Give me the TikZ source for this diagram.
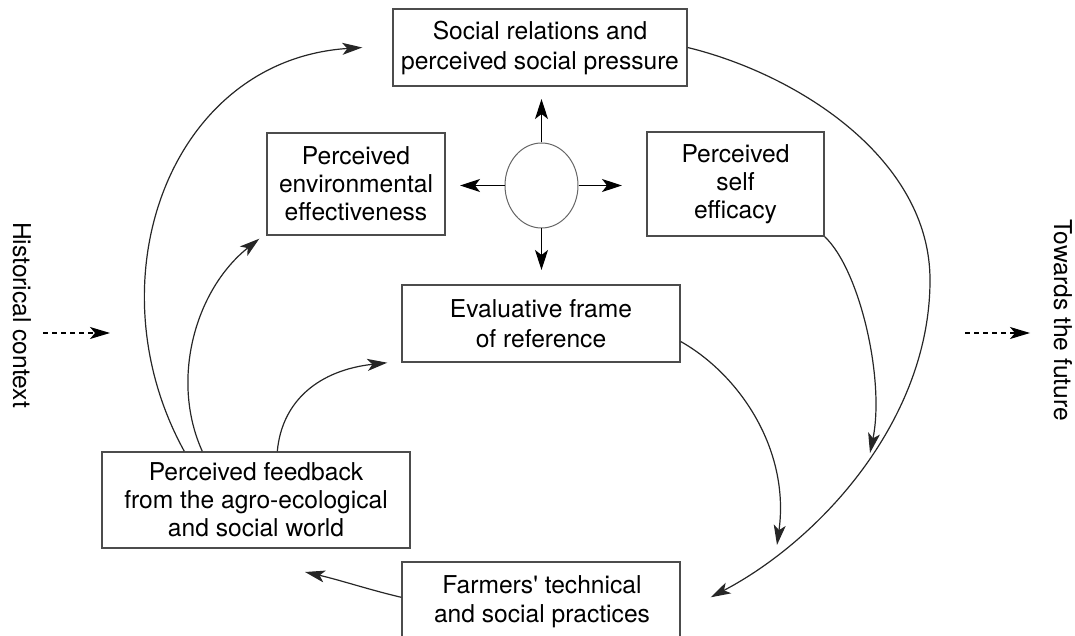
\documentclass[tikz,border=0pt]{standalone}
\usepackage{fontspec}
\setmainfont{TeX Gyre Heros}
\usetikzlibrary{arrows.meta,calc,shapes.geometric}
\begin{document}
\begin{tikzpicture}[x=0.5pt,y=-0.5pt,
  box/.style={draw=black!70,line width=0.7pt,inner sep=0pt,align=center,
    font=\fontsize{12.3}{14}\selectfont},
  wide/.style={font=\fontsize{12.3}{15}\selectfont},
  conn/.style={line width=0.6pt,draw=black!85,-{Stealth[length=10pt,width=6pt,inset=2.5pt]}},
  spoke/.style={line width=0.7pt,-{Stealth[length=10pt,width=6.5pt,inset=2.5pt]}},
  dashconn/.style={line width=0.6pt,dash pattern=on 2.5pt off 2pt,-{Stealth[length=10pt,width=6pt,inset=2.5pt]}},
  side/.style={rotate=-90,inner sep=0pt,font=\fontsize{12.3}{14}\selectfont}]
\useasboundingbox (0,0) rectangle (1075,636);
\clip (0,0) rectangle (1075,636);

% boxes
\node[box,wide,minimum width=147pt,minimum height=38.5pt] (soc) at (540,47.5)
  {Social relations and\\perceived social pressure};
\node[box,minimum width=89pt,minimum height=51pt] (env) at (356,184)
  {Perceived\\environmental\\effectiveness};
\node[box,minimum width=88.5pt,minimum height=52pt] (self) at (735.5,184)
  {Perceived\\self\\efficacy};
\node[ellipse,draw=black!60,line width=0.5pt,minimum width=36.5pt,minimum height=42.5pt,inner sep=0pt] (ell) at (541.5,185.5) {};
\node[box,wide,minimum width=139pt,minimum height=38.5pt] (eval) at (541,323.5)
  {Evaluative frame\\of reference};
\node[box,minimum width=154pt,minimum height=48pt] (fb) at (256,500)
  {Perceived feedback\\from the agro-ecological\\and social world};
\node[box,minimum width=139pt,minimum height=50pt] (farm) at (541,612) {};
\node[inner sep=0pt,align=center,font=\fontsize{12.3}{14.5}\selectfont,anchor=base] (farmtxt) at (542,622)
  {Farmers\textquotesingle{} technical\\and social practices};

% side labels
\node[side] (hist) at (22,315) {Historical context};
\node[side] (fut) at (1063,320) {Towards the future};
\coordinate (hs) at (43,333);
\coordinate (he) at (110,333);
\coordinate (fs) at (965,333);
\coordinate (fe) at (1030,333);
\draw[dashconn] (hs) -- (he);
\draw[dashconn] (fs) -- (fe);

% spokes from the ellipse
\coordinate (eu) at (541.5,99);
\coordinate (ed) at (541.5,270);
\coordinate (el) at (460,185.5);
\coordinate (er) at (622,185.5);
\draw[spoke] (ell.north) -- (eu);
\draw[spoke] (ell.south) -- (ed);
\draw[spoke] (ell.west) -- (el);
\draw[spoke] (ell.east) -- (er);

% feedback curves
\coordinate (t1) at ($(soc.west)+(-30,0)$);
\draw[conn] ($(fb.north west)+(83,0)$) .. controls (90,280) and (170,60) .. (t1);
\coordinate (t2) at ($(env.south west)+(-7,3)$);
\draw[conn] ($(fb.north west)+(101,0)$) .. controls (170,380) and (195,290) .. (t2);
\coordinate (t3) at ($(eval.south west)+(-14,0)$);
\draw[conn] ($(fb.north west)+(176,0)$) .. controls (282,400) and (320,370) .. (t3);

% right side curves
\coordinate (t4) at (777,545);
\draw[conn] ($(eval.east)+(0,18)$) .. controls (740,375) and (790,450) .. (t4);
\coordinate (t5) at (870,453);
\draw[conn] (self.south east) .. controls (860,270) and (885,380) .. (t5);
\coordinate (t6) at ($(farm.north east)+(30,36)$);
\draw[conn] (soc.east) .. controls (800,75) and (930,160) .. (930,280)
  .. controls (930,420) and (820,540) .. (t6);

% farmers to feedback
\coordinate (t7) at (305,572);
\draw[conn] ($(farm.north west)+(0,36)$) .. controls (370,590) and (340,580) .. (t7);
\end{tikzpicture}
\end{document}
